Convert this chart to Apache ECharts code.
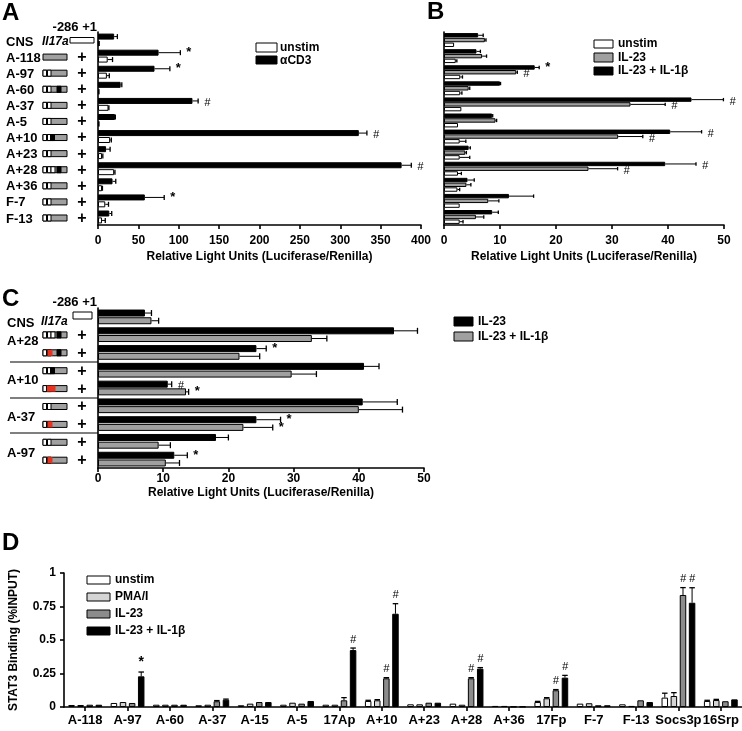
<!DOCTYPE html>
<html>
<head>
<meta charset="utf-8">
<script src="https://cdn.jsdelivr.net/npm/echarts@6/dist/echarts.min.js"></script>
<style>
html, body { margin: 0; padding: 0; background: #fff; }
#chart { width: 742px; height: 731px; }
</style>
</head>
<body>
<div id="chart"></div>
<script>
const FONT = 'Liberation Sans, Arial, Helvetica, sans-serif'

// ---- panel A : luciferase, unstim vs aCD3
const rowsA = ['CNS', 'A-118', 'A-97', 'A-60', 'A-37', 'A-5', 'A+10', 'A+23', 'A+28', 'A+36', 'F-7', 'F-13']
const aCD3 = [20, 75, 70, 28, 117, 21, 323, 10, 376, 18, 58, 14]
const aCD3Err = [4, 27, 19, 1.5, 7, 0.5, 10, 5, 12, 4, 24, 3]
const aCD3Marks = ['', '*', '*', '', '#', '', '#', '', '#', '', '*', '']
const aUnstim = [1, 12, 11, 2, 13, 2, 15, 5, 20, 5, 9, 5]
const aUnstimErr = [0.5, 6, 3, 0, 0.5, 0, 1.5, 1, 1, 0.5, 4, 4]

// ---- panel B : luciferase, unstim / IL-23 / IL-23 + IL-1b
const bBoth = [6.1, 5.8, 16.2, 10.0, 44.2, 8.6, 40.4, 4.4, 39.5, 4.2, 11.6, 8.6]
const bBothErr = [0.9, 0.7, 0.8, 0.1, 5.7, 0.1, 5.6, 0.3, 5.5, 1.2, 4.4, 1.1]
const bBothMarks = ['', '', '*', '', '#', '', '#', '', '#', '', '', '']
const bIL23 = [7.3, 6.8, 12.9, 4.4, 33.3, 9.2, 31.1, 3.8, 25.8, 4.0, 7.9, 5.7]
const bIL23Err = [0.2, 0.8, 0.2, 0.2, 6.2, 0.2, 4.4, 0.2, 5.2, 0.8, 1.9, 1.4]
const bIL23Marks = ['', '', '#', '', '#', '', '#', '', '#', '', '', '']
const bUnstim = [1.8, 2.1, 2.9, 2.9, 3.1, 2.5, 2.8, 2.8, 2.5, 2.4, 2.8, 2.8]
const bUnstimErr = [0, 0.2, 0.4, 0.3, 0, 0, 1.1, 1.8, 0.6, 0.4, 0, 0.6]

// ---- panel C : mutated constructs, IL-23 vs IL-23 + IL-1b
const rowsC = ['CNS', 'A+28', 'A+28 mut', 'A+10', 'A+10 mut', 'A-37', 'A-37 mut', 'A-97', 'A-97 mut']
const cIL23 = [7.2, 45.4, 24.3, 40.8, 10.7, 40.6, 24.3, 18.1, 11.7]
const cIL23Err = [1.0, 3.6, 1.5, 2.3, 0.6, 5.3, 3.7, 1.9, 2.0]
const cIL23Marks = ['', '', '*', '', '#', '', '*', '', '*']
const cBoth = [8.2, 32.8, 21.7, 29.7, 13.5, 40.0, 22.3, 9.3, 10.4]
const cBothErr = [1.1, 2.3, 3.1, 3.8, 0.4, 6.7, 4.5, 1.8, 2.1]
const cBothMarks = ['', '', '', '', '*', '', '*', '', '']

// ---- panel D : STAT3 ChIP
const sitesD = ['A-118', 'A-97', 'A-60', 'A-37', 'A-15', 'A-5', '17Ap', 'A+10', 'A+23', 'A+28', 'A+36', '17Fp', 'F-7', 'F-13', 'Socs3p', '16Srp']
const dUnstim = [0.015, 0.03, 0.017, 0.013, 0.013, 0.017, 0.017, 0.045, 0.02, 0.025, 0.008, 0.037, 0.025, 0.02, 0.07, 0.045]
const dUnstimErr = [0, 0, 0, 0, 0, 0, 0, 0.005, 0, 0, 0, 0.005, 0, 0, 0.033, 0.005]
const dPMA = [0.015, 0.037, 0.017, 0.017, 0.025, 0.032, 0.017, 0.05, 0.02, 0.017, 0.008, 0.065, 0.028, 0.008, 0.082, 0.052]
const dPMAErr = [0, 0, 0, 0, 0, 0, 0, 0.005, 0, 0, 0, 0.005, 0, 0, 0.025, 0.005]
const dIL23 = [0.017, 0.03, 0.017, 0.043, 0.037, 0.025, 0.05, 0.214, 0.032, 0.214, 0.003, 0.125, 0.013, 0.05, 0.836, 0.043]
const dIL23Err = [0, 0, 0, 0.005, 0, 0, 0.02, 0.005, 0, 0.005, 0, 0.005, 0, 0, 0.055, 0]
const dIL23Marks = ['', '', '', '', '', '', '', '#', '', '#', '', '#', '', '', '#', '']
const dBoth = [0.017, 0.229, 0.017, 0.054, 0.037, 0.045, 0.425, 0.696, 0.032, 0.286, 0.003, 0.219, 0.013, 0.037, 0.778, 0.057]
const dBothErr = [0, 0.032, 0, 0.005, 0, 0, 0.015, 0.075, 0, 0.008, 0, 0.017, 0, 0, 0.112, 0]
const dBothMarks = ['', '*', '', '', '', '', '#', '#', '', '#', '', '#', '', '', '#', '']

const GRAY = '#a0a0a0'
const LIGHT = '#d4d4d4'
const MID = '#8c8c8c'

const myEchart = echarts.init(document.getElementById('chart'))

// 误差线 + 显著性标记
function errSeries (panel, vals, errs, marks, slot, nSlots, w, g, horizontal) {
  return {
    type: 'custom',
    xAxisIndex: panel,
    yAxisIndex: panel,
    z: 5,
    silent: true,
    data: vals.map((v, i) => (horizontal ? [v, i] : [i, v])),
    renderItem: function (params, api) {
      const i = params.dataIndex
      const off = -(nSlots * w + (nSlots - 1) * g) / 2 + w / 2 + slot * (w + g)
      const e = errs[i]
      const mark = marks[i]
      const kids = []
      const cap = Math.max(w / 2 - 0.5, 1.5)
      if (horizontal) {
        const a = api.coord([vals[i], i])
        const b = api.coord([vals[i] + e, i])
        const y = a[1] + off
        if (e > 0) {
          kids.push({ type: 'line', shape: { x1: a[0], y1: y, x2: b[0], y2: y }, style: { stroke: '#000', lineWidth: 1 } })
          kids.push({ type: 'line', shape: { x1: b[0], y1: y - cap, x2: b[0], y2: y + cap }, style: { stroke: '#000', lineWidth: 1.3 } })
        }
        if (mark) {
          kids.push({ type: 'text', style: { text: mark, x: b[0] + 6, y: y + (mark === '#' ? 2 : 0), fill: '#000', font: (mark === '#' ? 'italic 11px ' : 'bold 13px ') + FONT, align: 'left', verticalAlign: 'middle' } })
        }
      } else {
        const a = api.coord([i, vals[i]])
        const b = api.coord([i, vals[i] + e])
        const x = a[0] + off
        if (e > 0) {
          kids.push({ type: 'line', shape: { x1: x, y1: a[1], x2: x, y2: b[1] }, style: { stroke: '#000', lineWidth: 1 } })
          kids.push({ type: 'line', shape: { x1: x - cap, y1: b[1], x2: x + cap, y2: b[1] }, style: { stroke: '#000', lineWidth: 1.3 } })
        }
        if (mark) {
          kids.push({ type: 'text', style: { text: mark, x: x, y: b[1] - 3, fill: '#000', font: (mark === '#' ? 'italic 11px ' : 'bold 14px ') + FONT, align: 'center', verticalAlign: 'bottom' } })
        }
      }
      return { type: 'group', children: kids }
    }
  }
}

function barSeries (panel, name, vals, color, w, gap) {
  return {
    type: 'bar',
    name: name,
    xAxisIndex: panel,
    yAxisIndex: panel,
    data: vals,
    barWidth: w,
    barGap: gap,
    silent: true,
    itemStyle: { color: color, borderColor: '#000', borderWidth: 1 }
  }
}

const axisLineStyle = { lineStyle: { color: '#000', width: 1.6 } }
const tickLabel = { color: '#000', fontFamily: FONT, fontWeight: 'bold', fontSize: 12 }

function valueXAxis (grid, max, interval, margin, nameGap) {
  return {
    type: 'value',
    gridIndex: grid,
    min: 0,
    max: max,
    interval: interval,
    axisLine: { show: true, ...axisLineStyle },
    axisTick: { show: true, length: 4, lineStyle: { color: '#000', width: 1.6 } },
    axisLabel: { ...tickLabel, margin: margin },
    splitLine: { show: false },
    name: 'Relative Light Units (Luciferase/Renilla)',
    nameLocation: 'middle',
    nameGap: nameGap,
    nameTextStyle: { ...tickLabel, verticalAlign: 'top' }
  }
}

function catYAxis (grid, cats) {
  return {
    type: 'category',
    gridIndex: grid,
    data: cats,
    inverse: true,
    axisLine: { show: true, ...axisLineStyle },
    axisTick: { show: false },
    axisLabel: { show: false }
  }
}

// ---- 左侧构建体示意图
const graphics = []
function txt (x, y, text, font, align) {
  graphics.push({ type: 'text', x: x, y: y, style: { text: text, font: font, fill: '#000', align: align || 'left', verticalAlign: 'middle' } })
}
function rect (x0, x1, y0, y1, fill, lw) {
  graphics.push({ type: 'rect', shape: { x: x0, y: y0, width: x1 - x0, height: y1 - y0 }, style: { fill: fill, stroke: '#000', lineWidth: lw === undefined ? 1 : lw } })
}
function construct (y, segs) {
  rect(43, 67, y - 3, y + 3, GRAY)
  segs.forEach(s => rect(s[0], s[1], y - 3, y + 3, s[2], s[3]))
}
const STD = [[43, 46.5, '#fff'], [47.5, 51, '#fff']]
const boldF = 'bold 12px ' + FONT
const rowF = 'bold 13px ' + FONT
const geneF = 'italic bold 12px ' + FONT

// A
txt(2, 13, 'A', 'bold 24px ' + FONT)
txt(97, 27, '-286 +1', rowF, 'right')
const constructsA = [
  null,
  [],
  STD,
  STD.concat([[57, 61, '#000']]),
  STD,
  STD,
  STD.concat([[50.5, 54.5, '#000']]),
  STD,
  STD.concat([[51, 55, '#fff'], [57, 61, '#000']]),
  STD,
  STD,
  STD
]
rowsA.forEach((r, i) => {
  const y = 40 + i * 16.09
  if (i === 0) {
    txt(6, y + 2, r, rowF)
    txt(42, y + 2, 'Il17a', geneF)
    rect(70, 94, y - 2.5, y + 3, '#fff')
  } else {
    txt(6, y + 2, r, rowF)
    construct(y + 1, constructsA[i])
    txt(82, y + 1.5, '+', 'bold 16px ' + FONT, 'center')
  }
})
// legend A
rect(256, 277, 43, 52, '#fff')
rect(256, 277, 56, 64, '#000')
txt(280, 47.5, 'unstim', boldF)
txt(280, 60.5, 'αCD3', boldF)

// B
txt(427, 12, 'B', 'bold 24px ' + FONT)
rect(594, 613, 40, 48, '#fff')
rect(594, 613, 53, 62, GRAY)
rect(594, 613, 67, 75, '#000')
txt(618, 44, 'unstim', boldF)
txt(618, 57.5, 'IL-23', boldF)
txt(618, 71, 'IL-23 + IL-1β', boldF)

// C
txt(2, 299, 'C', 'bold 24px ' + FONT)
txt(97, 302, '-286 +1', rowF, 'right')
rect(73, 92, 312, 319, '#fff')
txt(7, 323, 'CNS', rowF)
txt(41, 322, 'Il17a', geneF)
const constructsC = [
  null,
  STD.concat([[51, 55, '#fff'], [57, 61, '#000']]),
  STD.concat([[47.5, 52.5, '#e8321e', 0], [57, 61, '#000']]),
  STD.concat([[50.5, 54.5, '#000']]),
  STD.concat([[47, 55.5, '#e8321e', 0]]),
  STD,
  STD.concat([[47.5, 52.5, '#e8321e', 0]]),
  STD,
  STD.concat([[47.5, 52.5, '#e8321e', 0]])
]
rowsC.forEach((r, i) => {
  if (i === 0) return
  const y = 317 + i * 17.9
  construct(y, constructsC[i])
  txt(82, y + 0.5, '+', 'bold 16px ' + FONT, 'center')
})
txt(7, 341, 'A+28', rowF)
txt(7, 380, 'A+10', rowF)
txt(7, 417, 'A-37', rowF)
txt(7, 453, 'A-97', rowF)
;[362, 398, 433].forEach(y => {
  graphics.push({ type: 'line', shape: { x1: 10, y1: y, x2: 98, y2: y }, style: { stroke: '#000', lineWidth: 1.2 } })
})
rect(454, 473, 317, 326, '#000')
rect(454, 473, 332, 341, GRAY)
txt(478, 321.5, 'IL-23', boldF)
txt(478, 336.5, 'IL-23 + IL-1β', boldF)

// D
txt(2, 543, 'D', 'bold 24px ' + FONT)
rect(87, 110, 576, 584, '#fff')
rect(87, 110, 593, 601, LIGHT)
rect(87, 110, 610, 618, MID)
rect(87, 110, 627, 635, '#000')
txt(115, 580, 'unstim', boldF)
txt(115, 597, 'PMA/I', boldF)
txt(115, 614, 'IL-23', boldF)
txt(115, 631, 'IL-23 + IL-1β', boldF)

const option = {
  animation: false,
  backgroundColor: '#fff',
  textStyle: { fontFamily: FONT },
  grid: [
    { left: 98, right: 321, top: 32, bottom: 506 },
    { left: 444, right: 18, top: 32, bottom: 506 },
    { left: 98, right: 318, top: 308, bottom: 263 },
    { left: 57.5, width: 689, top: 573, bottom: 24 }
  ],
  xAxis: [
    valueXAxis(0, 400, 50, 10, 26),
    valueXAxis(1, 50, 10, 10, 26),
    valueXAxis(2, 50, 10, 5, 19),
    {
      type: 'category',
      gridIndex: 3,
      data: sitesD,
      axisLine: { show: true, ...axisLineStyle },
      axisTick: { show: true, alignWithLabel: true, length: 4, lineStyle: { color: '#000', width: 1.6 } },
      axisLabel: { ...tickLabel, fontSize: 13, margin: 7, interval: 0 }
    }
  ],
  yAxis: [
    catYAxis(0, rowsA),
    catYAxis(1, rowsA),
    catYAxis(2, rowsC),
    {
      type: 'value',
      gridIndex: 3,
      min: 0,
      max: 1,
      interval: 0.25,
      axisLine: { show: true, ...axisLineStyle },
      axisTick: { show: true, length: 4, lineStyle: { color: '#000', width: 1.6 } },
      axisLabel: { ...tickLabel, margin: 8 },
      splitLine: { show: false },
      name: 'STAT3 Binding (%INPUT)',
      nameLocation: 'middle',
      nameGap: 44,
      nameRotate: 90,
      nameTextStyle: { ...tickLabel }
    }
  ],
  series: [
    barSeries(0, 'αCD3', aCD3, '#000', 6, '15%'),
    barSeries(0, 'unstim', aUnstim, '#fff', 6, '15%'),
    errSeries(0, aCD3, aCD3Err, aCD3Marks, 0, 2, 6, 0.9, true),
    errSeries(0, aUnstim, aUnstimErr, [], 1, 2, 6, 0.9, true),

    barSeries(1, 'IL-23 + IL-1β', bBoth, '#000', 4.4, '8%'),
    barSeries(1, 'IL-23', bIL23, GRAY, 4.4, '8%'),
    barSeries(1, 'unstim', bUnstim, '#fff', 4.4, '8%'),
    errSeries(1, bBoth, bBothErr, bBothMarks, 0, 3, 4.4, 0.35, true),
    errSeries(1, bIL23, bIL23Err, bIL23Marks, 1, 3, 4.4, 0.35, true),
    errSeries(1, bUnstim, bUnstimErr, [], 2, 3, 4.4, 0.35, true),

    barSeries(2, 'IL-23', cIL23, '#000', 7, '10%'),
    barSeries(2, 'IL-23 + IL-1β', cBoth, GRAY, 7, '10%'),
    errSeries(2, cIL23, cIL23Err, cIL23Marks, 0, 2, 7, 0.7, true),
    errSeries(2, cBoth, cBothErr, cBothMarks, 1, 2, 7, 0.7, true),

    barSeries(3, 'unstim', dUnstim, '#fff', 6.5, '40%'),
    barSeries(3, 'PMA/I', dPMA, LIGHT, 6.5, '40%'),
    barSeries(3, 'IL-23', dIL23, MID, 6.5, '40%'),
    barSeries(3, 'IL-23 + IL-1β', dBoth, '#000', 6.5, '40%'),
    errSeries(3, dUnstim, dUnstimErr, [], 0, 4, 6.5, 2.6, false),
    errSeries(3, dPMA, dPMAErr, [], 1, 4, 6.5, 2.6, false),
    errSeries(3, dIL23, dIL23Err, dIL23Marks, 2, 4, 6.5, 2.6, false),
    errSeries(3, dBoth, dBothErr, dBothMarks, 3, 4, 6.5, 2.6, false)
  ],
  graphic: graphics
}
myEchart.setOption(option)
</script>
</body>
</html>
